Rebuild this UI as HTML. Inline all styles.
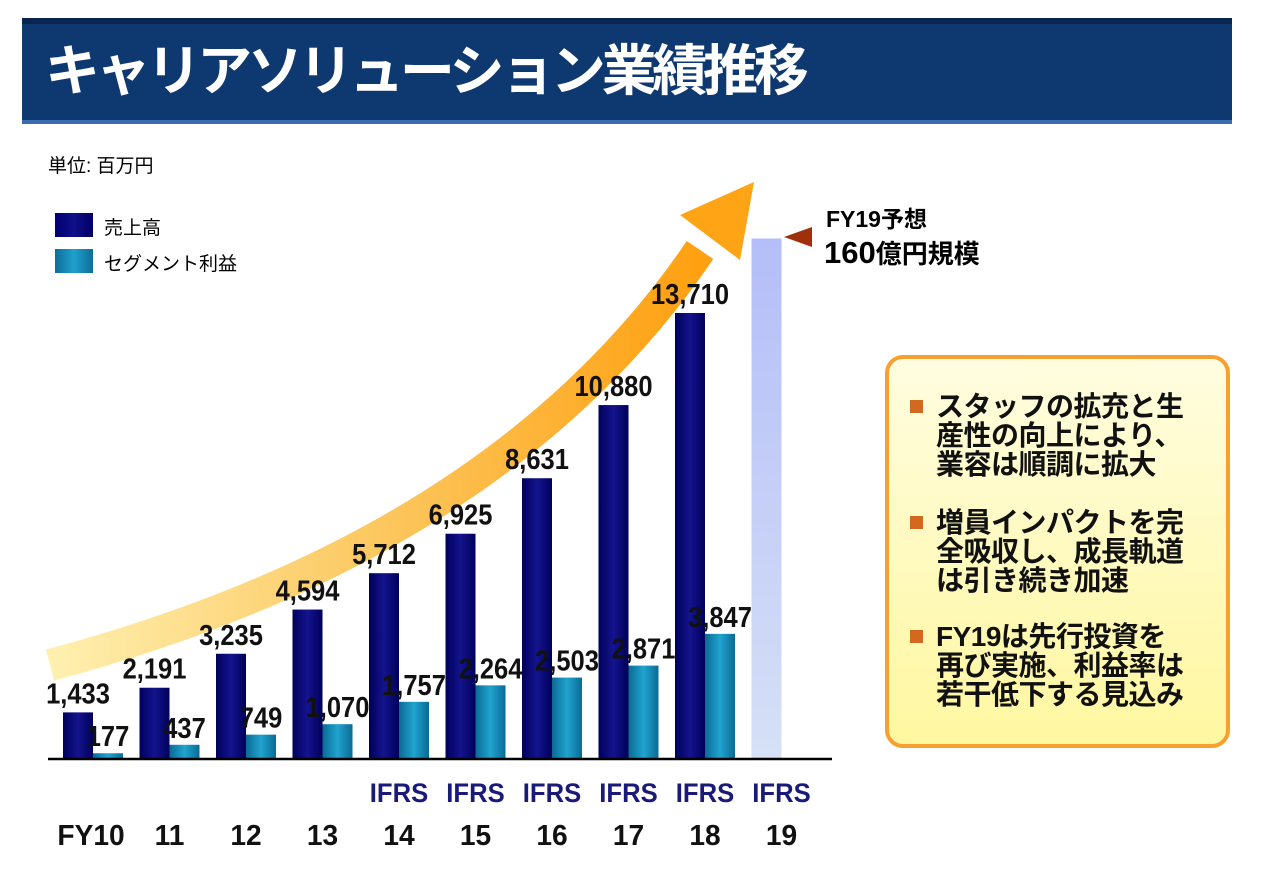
<!DOCTYPE html>
<html><head><meta charset="utf-8">
<style>
body{margin:0;width:1280px;height:869px;background:#fff;overflow:hidden;font-family:"Liberation Sans","Noto Sans CJK JP",sans-serif;}
.abs{position:absolute;}
#title-bar{left:22px;top:18px;width:1210px;height:106px;background:#0e3870;border-top:6px solid #0a2550;border-bottom:4px solid #3a6cb0;box-sizing:border-box;}
#title{left:45px;top:36px;color:#fff;font-size:55px;font-weight:bold;letter-spacing:-4.3px;white-space:nowrap;line-height:70px;}
#note-box{left:885px;top:355px;width:345px;height:393px;box-sizing:border-box;border:4px solid #f7a030;border-radius:18px;background:linear-gradient(#fffde0,#fff7a0);}
.ln{position:absolute;left:936px;font-size:28px;font-weight:bold;color:#111;white-space:nowrap;line-height:29px;letter-spacing:-0.5px;}
.bul{position:absolute;left:910px;width:13px;height:13px;background:#d2691e;}
</style></head>
<body>
<div class="abs" id="title-bar"></div>
<div class="abs" id="title">キャリアソリューション業績推移</div>
<div class="abs" style="left:48px;top:151px;font-size:19px;">単位: 百万円</div>
<div class="abs" style="left:55px;top:213px;width:38px;height:24px;background:linear-gradient(90deg,#000070,#10108a,#000060);"></div>
<div class="abs" style="left:104px;top:213px;font-size:19px;">売上高</div>
<div class="abs" style="left:55px;top:249px;width:38px;height:24px;background:linear-gradient(90deg,#0d6e98,#1fa0cc,#0d6e98);"></div>
<div class="abs" style="left:104px;top:249px;font-size:19px;">セグメント利益</div>
<div class="abs" style="left:826px;top:200px;font-size:23px;font-weight:bold;">FY19予想</div>
<div class="abs" style="left:824px;top:234px;font-size:31px;font-weight:bold;">160<span style="font-size:26px">億円規模</span></div>

<svg class="abs" style="left:0;top:0" width="1280" height="869" id="chart">
<defs>
<linearGradient id="arrowG" x1="0" y1="0" x2="1" y2="0"><stop offset="0" stop-color="#fff0b0"/><stop offset="0.5" stop-color="#fcc860"/><stop offset="1" stop-color="#ffa010"/></linearGradient>
<linearGradient id="revG" x1="0" y1="0" x2="1" y2="0"><stop offset="0" stop-color="#00005a"/><stop offset="0.5" stop-color="#14148e"/><stop offset="1" stop-color="#00005a"/></linearGradient>
<linearGradient id="segG" x1="0" y1="0" x2="1" y2="0"><stop offset="0" stop-color="#0a6a94"/><stop offset="0.5" stop-color="#20a4cf"/><stop offset="1" stop-color="#0a6a94"/></linearGradient>
<linearGradient id="fcG" x1="0" y1="0" x2="0" y2="1"><stop offset="0" stop-color="#b4bef8"/><stop offset="1" stop-color="#d6e0f6"/></linearGradient>
</defs>
<path d="M50,665 Q500,545 700,250" fill="none" stroke="url(#arrowG)" stroke-width="32"/>
<polygon points="754,182 680,215 740,260" fill="#ffa414"/>
<polygon points="784,237 812,227 812,247" fill="#a0300c"/>
<g id="bars"></g>
<line x1="48" y1="759" x2="832" y2="759" stroke="#000" stroke-width="2.5"/>
</svg>

<div class="abs" id="note-box"></div>
<div class="bul" style="top:400px"></div>
<div class="ln" style="top:392px">スタッフの拡充と生<br>産性の向上により、<br>業容は順調に拡大</div>
<div class="bul" style="top:516px"></div>
<div class="ln" style="top:508px">増員インパクトを完<br>全吸収し、成長軌道<br>は引き続き加速</div>
<div class="bul" style="top:630px"></div>
<div class="ln" style="top:622px">FY19は先行投資を<br>再び実施、利益率は<br>若干低下する見込み</div>

<script>
const categories = ["FY10","11","12","13","14","15","16","17","18","19"];
const revenue = [1433,2191,3235,4594,5712,6925,8631,10880,13710,null];
const profit = [177,437,749,1070,1757,2264,2503,2871,3847,null];
const forecastRevenue = 16000;
const ifrsFlags = [false,false,false,false,true,true,true,true,true,true];

const NS="http://www.w3.org/2000/svg";
const g=document.getElementById('bars');
const baseY=759, scale=446/13710, x0=63, step=76.5, bw=30;
const xPos=i=>x0+i*step;
const yPos=v=>baseY-v*scale;
function mk(tag,attrs){const e=document.createElementNS(NS,tag);for(const k in attrs)e.setAttribute(k,attrs[k]);g.appendChild(e);return e;}
function lbl(x,y,t,size,color,sx){const e=mk('text',{x:0,y:0,transform:'translate('+x+','+y+') scale('+sx+',1)','text-anchor':'middle','font-size':size,'font-weight':'bold',fill:color,'font-family':'Liberation Sans, sans-serif'});e.textContent=t;return e;}
categories.forEach((c,i)=>{
  const x=xPos(i);
  if(revenue[i]!==null){
    const r=mk('rect',{x:x,y:yPos(revenue[i]),width:bw,height:baseY-yPos(revenue[i]),fill:'url(#revG)'});
    
    
    const p=mk('rect',{x:x+bw,y:yPos(profit[i]),width:bw,height:baseY-yPos(profit[i]),fill:'url(#segG)'});
    
    
    const t1=lbl(x+bw/2,yPos(revenue[i])-9,revenue[i].toLocaleString('en-US'),29,'#111',0.88);
    
    
    const t2=lbl(x+bw*1.5,yPos(profit[i])-7,profit[i].toLocaleString('en-US'),29,'#111',0.88);
    
    
  } else {
    const f=mk('rect',{x:x,y:yPos(forecastRevenue),width:bw,height:baseY-yPos(forecastRevenue),fill:'url(#fcG)'});
    
    
  }
  const cx = x+bw;
  if(ifrsFlags[i]){
    const t=lbl(cx,802,'IFRS',27,'#1a1a7a',0.95);
    
    
  }
  const tc=lbl(i===0?cx-2:cx,845,c,29,'#111',0.97);
  
  
});
</script>
</body></html>
